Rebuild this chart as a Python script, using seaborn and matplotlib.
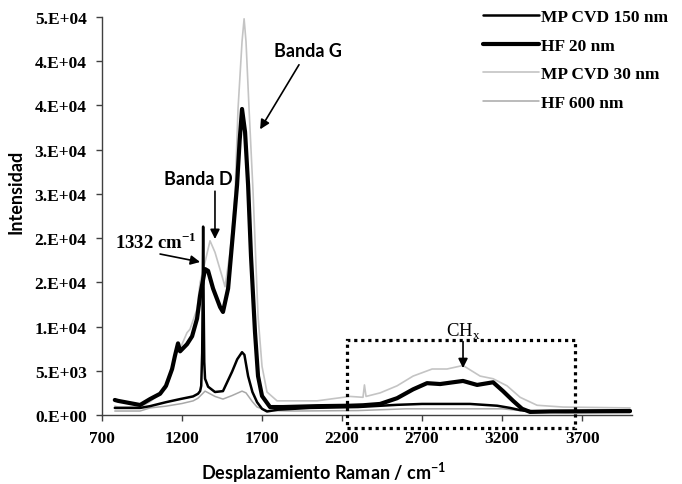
import matplotlib
matplotlib.use("Agg")
import matplotlib.pyplot as plt
import seaborn as sns
import pandas as pd
from matplotlib.patches import Rectangle
from matplotlib.font_manager import FontProperties

# ---------------- data ----------------
x_mpcvd150 = [780, 800, 938, 1000, 1100, 1188, 1269, 1300, 1313, 1320, 1326, 1329, 1332, 1335, 1339,
              1344, 1363, 1406, 1456, 1513, 1545, 1575, 1590, 1613, 1640, 1669, 1700, 1731, 1800,
              2000, 2300, 2544, 2700, 3000, 3169, 3250, 3313, 3400, 3600, 4000]
y_mpcvd150 = [800, 800, 800, 1000, 1450, 1800, 2100, 2400, 2700, 3300, 7000, 13000, 21300, 13000, 6000,
              4100, 3200, 2600, 2700, 4900, 6300, 7100, 6800, 4400, 2600, 1450, 700, 400, 600,
              800, 900, 1150, 1250, 1250, 1050, 800, 550, 400, 350, 350]

x_hf20 = [780, 800, 938, 1000, 1063, 1100, 1138, 1156, 1175, 1188, 1231, 1263, 1294, 1313, 1344,
          1363, 1394, 1438, 1456, 1488, 1519, 1544, 1560, 1575, 1594, 1613, 1631, 1656, 1675, 1700,
          1750, 1831, 2044, 2250, 2331, 2438, 2544, 2644, 2731, 2813, 2894, 2956, 3044, 3144, 3206,
          3269, 3325, 3375, 3500, 4000]
y_hf20 = [1700, 1600, 1130, 1800, 2400, 3300, 5200, 6700, 8100, 7200, 8000, 8900, 10900, 13500, 16500,
          16300, 14300, 12200, 11650, 14300, 20700, 26000, 31000, 34600, 32000, 26000, 18000, 9400, 4400, 2150,
          900, 900, 1000, 1050, 1100, 1250, 1900, 2900, 3600, 3500, 3700, 3850, 3400, 3700, 2700,
          1600, 700, 350, 400, 450]

x_mpcvd30 = [780, 800, 938, 1000, 1100, 1138, 1175, 1188, 1231, 1250, 1294, 1313, 1344, 1375, 1406,
             1450, 1469, 1500, 1519, 1531, 1550, 1575, 1588, 1600, 1619, 1644, 1675, 1700, 1731, 1794,
             2044, 2125, 2250, 2331, 2340, 2350, 2438, 2544, 2644, 2763, 2856, 2956, 3063, 3144, 3231,
             3313, 3419, 3581, 4000]
y_mpcvd30 = [1000, 900, 900, 1500, 3000, 5000, 8000, 7500, 9300, 9700, 12000, 15000, 17300, 19700, 18400,
             15700, 14500, 18400, 22000, 25000, 34600, 42200, 44800, 42200, 34600, 25200, 11200, 5500, 2600, 1600,
             1600, 1800, 2100, 2000, 3400, 2100, 2500, 3300, 4400, 5200, 5200, 5600, 4400, 4100, 3300,
             2000, 1100, 900, 800]

x_hf600 = [780, 938, 1000, 1100, 1200, 1270, 1300, 1344, 1406, 1456, 1513, 1575, 1600, 1640, 1669,
           1731, 1900, 2300, 2600, 3200, 3400, 4000]
y_hf600 = [450, 450, 800, 1000, 1300, 1600, 1900, 2700, 2100, 1800, 2200, 2700, 2500, 1500, 900,
           500, 450, 500, 700, 700, 350, 300]

series_names = ["MP CVD 150 nm", "HF 20 nm", "MP CVD 30 nm", "HF 600 nm"]
x_ticks = [700, 1200, 1700, 2200, 2700, 3200, 3700]
y_ticks = [0, 5000, 10000, 15000, 20000, 25000, 30000, 35000, 40000, 45000]
y_tick_labels = ["0.E+00", "5.E+03", "1.E+04", "2.E+04", "2.E+04", "3.E+04", "3.E+04",
                 "4.E+04", "4.E+04", "5.E+04"]

# ---------------- figure ----------------
sns.set_theme(style="white")
plt.rcParams["font.family"] = ["Liberation Serif", "DejaVu Sans"]
plt.rcParams["text.color"] = "black"
plt.rcParams["axes.labelcolor"] = "black"
plt.rcParams["xtick.color"] = "black"
plt.rcParams["ytick.color"] = "black"

fig = plt.figure(figsize=(6.82, 4.85), dpi=100)
ax = fig.add_axes([102 / 682, 69 / 485, 530 / 682, 398 / 485])

styles = {
    "MP CVD 30 nm": dict(color="#c4c4c4", lw=1.2, z=2),
    "HF 600 nm": dict(color="#a8a8a8", lw=1.1, z=3),
    "HF 20 nm": dict(color="black", lw=3.0, z=4),
    "MP CVD 150 nm": dict(color="black", lw=1.8, z=5),
}
data = {
    "MP CVD 150 nm": (x_mpcvd150, y_mpcvd150),
    "HF 20 nm": (x_hf20, y_hf20),
    "MP CVD 30 nm": (x_mpcvd30, y_mpcvd30),
    "HF 600 nm": (x_hf600, y_hf600),
}
for name in ["MP CVD 30 nm", "HF 600 nm", "HF 20 nm", "MP CVD 150 nm"]:
    xs, ys = data[name]
    df = pd.DataFrame({"x": xs, "y": ys})
    st = styles[name]
    sns.lineplot(data=df, x="x", y="y", ax=ax, color=st["color"], linewidth=st["lw"],
                 estimator=None, label=name, zorder=st["z"])

ax.set_xlim(700, 4012)
ax.set_ylim(0, 45000)
ax.set_xticks(x_ticks)
ax.set_xticklabels([str(t) for t in x_ticks])
ax.set_yticks(y_ticks)
ax.set_yticklabels(y_tick_labels)

for s in ["top", "right"]:
    ax.spines[s].set_visible(False)
for s in ["left", "bottom"]:
    ax.spines[s].set_color("#404040")
    ax.spines[s].set_linewidth(1.0)

tick_font = FontProperties(family="Liberation Serif", weight="bold", size=12.5)
ax.tick_params(axis="both", direction="out", length=4, width=1, color="#404040",
               bottom=True, left=True)
ax.tick_params(axis="y", pad=7)
ax.tick_params(axis="x", pad=7)
for lab in ax.get_xticklabels() + ax.get_yticklabels():
    lab.set_fontproperties(tick_font)
    lab.set_color("black")

label_font = FontProperties(family="Lato", weight="bold", size=13)
ax.set_xlabel(r"Desplazamiento Raman / cm$^{\mathregular{-1}}$", fontproperties=label_font, color="black")
ax.set_ylabel("Intensidad", fontproperties=label_font, color="black")
ax.xaxis.set_label_coords((324 - 102) / 530, -(461 - 416) / 398)
ax.yaxis.set_label_coords(-(102 - 25) / 530, (416 - 192) / 398)

# legend
handles, labels = ax.get_legend_handles_labels()
order = [labels.index(n) for n in series_names]
leg = ax.legend([handles[i] for i in order], [labels[i] for i in order],
                loc="upper left", bbox_to_anchor=(483 / 682, 1 - 10 / 485), bbox_transform=fig.transFigure,
                frameon=False, prop=FontProperties(family="Liberation Serif", weight="bold", size=12.5),
                handlelength=3.2, handletextpad=0.15, labelspacing=0.72, borderpad=0, borderaxespad=0)
for t in leg.get_texts():
    t.set_color("black")

# annotations
arrow = dict(arrowstyle="-|>", color="black", lw=1.2, mutation_scale=14, shrinkA=0, shrinkB=0)
sans_bold = FontProperties(family="Lato", weight="bold", size=13)
serif_bold = FontProperties(family="Liberation Serif", weight="bold", size=13.5)
serif_reg = FontProperties(family="Liberation Serif", size=13.5)

ax.text(1988, 41200, "Banda G", fontproperties=sans_bold, ha="center", va="center", color="black")
ax.annotate("", xy=(1688, 32300), xytext=(1931, 39600), arrowprops=arrow)

ax.text(1300, 26700, "Banda D", fontproperties=sans_bold, ha="center", va="center", color="black")
ax.annotate("", xy=(1406, 19900), xytext=(1406, 25300), arrowprops=arrow)

ax.text(1035, 19600, r"1332 cm$^{\mathregular{-1}}$", fontproperties=serif_bold, ha="center", va="center",
        color="black")
ax.annotate("", xy=(1313, 17300), xytext=(1063, 18200), arrowprops=arrow)

ax.text(2960, 9500, r"CH$_{\mathregular{x}}$", fontproperties=serif_reg, ha="center", va="center", color="black")
ax.annotate("", xy=(2956, 5300), xytext=(2956, 8300), arrowprops=arrow)

rect = Rectangle((2231, -1500), 3656 - 2231, 8500 + 1500, fill=False, edgecolor="black",
                 linewidth=2.3, linestyle=(0, (1, 1.2)), clip_on=False, zorder=6)
ax.add_patch(rect)

fig.savefig("out.png", dpi=100)
